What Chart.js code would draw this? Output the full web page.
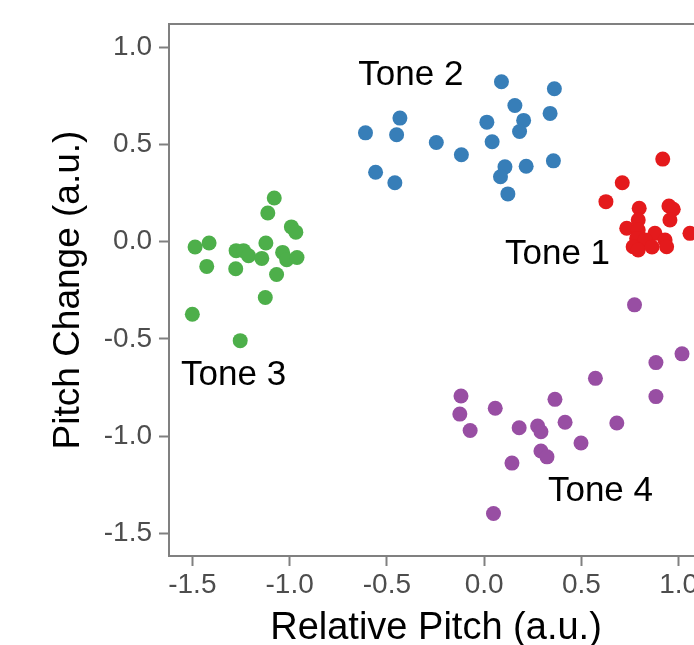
<!DOCTYPE html>
<html>
<head>
<meta charset="utf-8">
<script src="https://cdn.jsdelivr.net/npm/chart.js@4.4.1/dist/chart.umd.min.js"></script>
<style>
html, body { margin: 0; padding: 0; background: #fff; overflow: hidden; }
#wrap { width: 694px; height: 645px; overflow: hidden; }
</style>
</head>
<body>
<div id="wrap"><canvas id="toneChart" width="720" height="645"></canvas></div>
<script>
/* Tone 1 (red) */
var tone1X = [0.918, 0.710, 0.626, 0.797, 0.950, 0.972, 0.955, 0.792, 0.733, 0.792, 0.878, 0.784, 0.827, 0.930, 0.938, 1.058, 0.766, 0.792, 0.863];
var tone1Y = [0.425, 0.303, 0.206, 0.172, 0.184, 0.167, 0.112, 0.112, 0.069, 0.060, 0.043, 0.017, 0.009, 0.009, -0.026, 0.043, -0.026, -0.043, -0.027];

/* Tone 2 (blue) */
var tone2X = [0.089, 0.361, 0.158, -0.433, 0.339, 0.014, 0.203, -0.610, -0.450, 0.182, -0.246, 0.041, -0.117, -0.558, -0.459, 0.107, 0.084, 0.216, 0.356, 0.122];
var tone2Y = [0.823, 0.787, 0.701, 0.636, 0.660, 0.615, 0.624, 0.560, 0.550, 0.567, 0.510, 0.514, 0.447, 0.357, 0.303, 0.385, 0.334, 0.388, 0.416, 0.246];

/* Tone 3 (green) */
var tone3X = [-1.079, -1.112, -0.991, -0.968, -1.486, -1.414, -1.122, -1.275, -1.237, -1.211, -1.143, -1.036, -1.015, -0.962, -1.426, -1.277, -1.067, -1.125, -1.500, -1.254];
var tone3Y = [0.225, 0.148, 0.076, 0.049, -0.027, -0.007, -0.007, -0.046, -0.046, -0.072, -0.086, -0.055, -0.093, -0.081, -0.127, -0.139, -0.169, -0.287, -0.373, -0.509];

/* Tone 4 (purple) */
var tone4X = [0.773, 1.017, 0.883, 0.572, -0.119, 0.883, 0.364, -0.125, 0.057, 0.416, 0.682, -0.072, 0.180, 0.275, 0.292, 0.498, 0.292, 0.323, 0.143, 0.048];
var tone4Y = [-0.325, -0.577, -0.622, -0.703, -0.794, -0.797, -0.811, -0.887, -0.857, -0.929, -0.933, -0.971, -0.957, -0.948, -0.978, -1.036, -1.077, -1.107, -1.139, -1.398];

/* Cluster labels */
var toneLabelText = ["Tone 1", "Tone 2", "Tone 3", "Tone 4"];
var toneLabelX = [0.377, -0.377, -1.288, 0.598];
var toneLabelY = [-0.063, 0.857, -0.686, -1.286];

/* Axis ticks */
var xTicks = [-1.5, -1.0, -0.5, 0.0, 0.5, 1.0];
var yTicks = [-1.5, -1.0, -0.5, 0.0, 0.5, 1.0];

var fontFamily = '"Liberation Sans", Arial, Helvetica, sans-serif';
var frameColor = "#808080";

function toPoints(xs, ys) {
	var pts = [];
	for (var i = 0; i < xs.length; i++) {
		pts.push({ x: xs[i], y: ys[i] });
	}
	return pts;
}

function dotSet(name, xs, ys, color) {
	return {
		label: name,
		data: toPoints(xs, ys),
		backgroundColor: color,
		borderWidth: 0,
		pointRadius: 7.5,
		pointHoverRadius: 7.5
	};
}

const frameAndLabels = {
	id: "frameAndLabels",
	afterDatasetsDraw(chart) {
		const ctx = chart.ctx;
		const area = chart.chartArea;
		ctx.save();
		ctx.strokeStyle = frameColor;
		ctx.lineWidth = 2;
		ctx.strokeRect(area.left, area.top, area.right - area.left, area.bottom - area.top);
		ctx.font = "35px " + fontFamily;
		ctx.fillStyle = "#000";
		ctx.textAlign = "center";
		ctx.textBaseline = "middle";
		for (var i = 0; i < toneLabelText.length; i++) {
			ctx.fillText(toneLabelText[i],
				chart.scales.x.getPixelForValue(toneLabelX[i]),
				chart.scales.y.getPixelForValue(toneLabelY[i]));
		}
		ctx.restore();
	}
};

Chart.defaults.font.family = fontFamily;

new Chart(document.getElementById("toneChart"), {
	type: "scatter",
	data: {
		datasets: [
			dotSet("Tone 1", tone1X, tone1Y, "#E41A1C"),
			dotSet("Tone 2", tone2X, tone2Y, "#377EB8"),
			dotSet("Tone 3", tone3X, tone3Y, "#4DAF4A"),
			dotSet("Tone 4", tone4X, tone4Y, "#984EA3")
		]
	},
	options: {
		responsive: false,
		animation: false,
		layout: { padding: { top: 24, right: 17, bottom: 0, left: 0 } },
		plugins: { legend: { display: false }, tooltip: { enabled: false } },
		scales: {
			x: {
				type: "linear",
				min: -1.62,
				max: 1.125,
				afterBuildTicks: function (axis) {
					axis.ticks = xTicks.map(function (v) { return { value: v }; });
				},
				afterFit: function (axis) { axis.height = 89; },
				grid: { drawOnChartArea: false, drawTicks: true, tickLength: 10, tickColor: frameColor, tickWidth: 2 },
				border: { display: false },
				ticks: {
					padding: 2,
					color: "#4d4d4d",
					font: { size: 28 },
					callback: function (v) { return v.toFixed(1); }
				},
				title: {
					display: true,
					text: "Relative Pitch (a.u.)",
					color: "#000",
					font: { size: 38, lineHeight: 1 },
					padding: { top: 0, bottom: -3 }
				}
			},
			y: {
				type: "linear",
				min: -1.617,
				max: 1.12,
				afterBuildTicks: function (axis) {
					axis.ticks = yTicks.map(function (v) { return { value: v }; });
				},
				afterFit: function (axis) { axis.width = 169; },
				grid: { drawOnChartArea: false, drawTicks: true, tickLength: 10, tickColor: frameColor, tickWidth: 2 },
				border: { display: false },
				ticks: {
					padding: 7,
					color: "#4d4d4d",
					font: { size: 28 },
					callback: function (v) { return v.toFixed(1); }
				},
				title: {
					display: true,
					text: "Pitch Change (a.u.)",
					color: "#000",
					font: { size: 37, lineHeight: 1 },
					padding: { top: 50, bottom: 0 }
				}
			}
		}
	},
	plugins: [frameAndLabels]
});
</script>
</body>
</html>
